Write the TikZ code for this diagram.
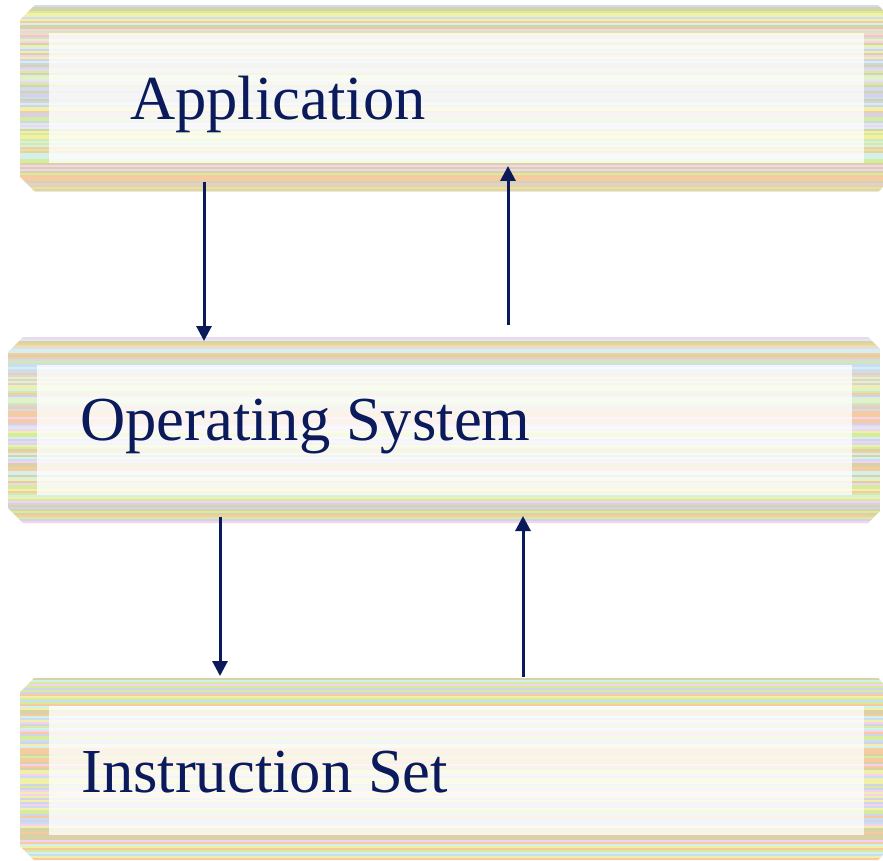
\documentclass[tikz,border=0pt]{standalone}
\usepackage{fontspec}
\setmainfont{Liberation Serif}
\usetikzlibrary{arrows.meta}
\definecolor{s0}{HTML}{D6EB9C}
\definecolor{s1}{HTML}{D2D2EA}
\definecolor{s2}{HTML}{F6CBA2}
\definecolor{s3}{HTML}{D8D2A6}
\definecolor{s4}{HTML}{F4D2F2}
\definecolor{s5}{HTML}{D2F0EC}
\definecolor{s6}{HTML}{F0F0A8}
\definecolor{s7}{HTML}{CCDCF2}
\definecolor{navy}{HTML}{0B1A5A}
\newcommand\stripefill[6]{%
  \begin{scope}
    \clip (#1+#5,#2) -- (#3-#6,#2) -- (#3,#2+#6) -- (#3,#4-#6) -- (#3-#6,#4)
      -- (#1+#5,#4) -- (#1,#4-#5) -- (#1,#2+#5) -- cycle;
    \pgfmathtruncatemacro\nst{(#4-#2)/2}
    \foreach \k in {0,...,\nst} {
      \pgfmathsetmacro\yy{#2+2*\k}
      \pgfmathrandominteger{\cidx}{0}{7}
      \fill[s\cidx] (#1,\yy) rectangle (#3,\yy+2.1);
    }
  \end{scope}}
\tikzset{
  label/.style={anchor=base west, inner sep=0pt, text=navy,
    font=\fontsize{62.6}{70}\selectfont},
  arr/.style={draw=navy, line width=3pt,
    -{Triangle[width=15pt,length=15pt]}},
  pale/.style={fill=white, opacity=0.76},
  layerbox/.style={draw=none, inner sep=0pt}
}
\begin{document}
\begin{tikzpicture}[x=1pt,y=-1pt]
  \pgfmathsetseed{11}
  \useasboundingbox (0,0) rectangle (883,861);
  % boxes
  \stripefill{20}{5}{883}{192}{15}{5}
  \fill[pale] (49,33) rectangle (864,163);
  \stripefill{8}{337}{880}{523}{15}{12}
  \fill[pale] (37,365) rectangle (852,495);
  \stripefill{20}{678}{883}{860}{14}{5}
  \fill[pale] (49,706) rectangle (864,835);
  % named box areas
  \node[layerbox, minimum width=863pt, minimum height=187pt] (b1) at (451.5,98.5) {};
  \node[layerbox, minimum width=872pt, minimum height=186pt] (b2) at (444,430) {};
  \node[layerbox, minimum width=863pt, minimum height=182pt] (b3) at (451.5,769) {};
  % labels
  \node[label] (app) at (130,120) {Application};
  \node[label] (os) at (80,440) {Operating System};
  \node[label] (isa) at (81,792) {Instruction Set};
  % arrow end points
  \coordinate (d1s) at (204,182);
  \coordinate (d1e) at (204,341);
  \coordinate (u1s) at (508,325);
  \coordinate (u1e) at (508,166);
  \coordinate (d2s) at (220,517);
  \coordinate (d2e) at (220,676);
  \coordinate (u2s) at (523,677);
  \coordinate (u2e) at (523,516);
  \draw[arr] (d1s) -- (d1e);
  \draw[arr] (u1s) -- (u1e);
  \draw[arr] (d2s) -- (d2e);
  \draw[arr] (u2s) -- (u2e);
\end{tikzpicture}
\end{document}
